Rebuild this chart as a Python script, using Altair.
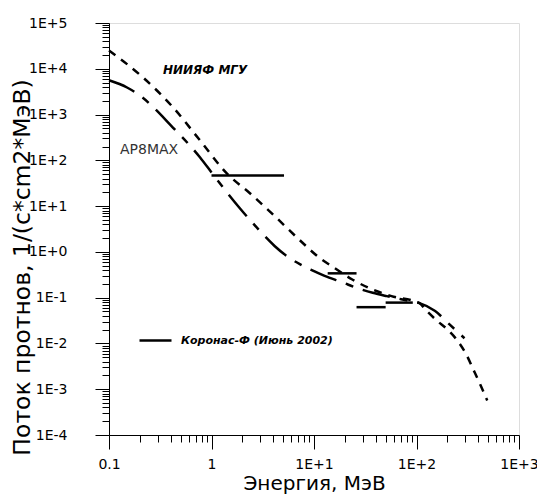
import altair as alt
import pandas as pd

# НИИЯФ МГУ model (short dashes)
niiyaf_e = [0.1, 0.214, 0.42, 0.77, 1.41, 2.37, 4.15, 7.27, 11.4, 16.0, 23.4, 35, 57, 107,
            123, 157, 206, 257, 309, 361, 423, 490]
niiyaf_f = [2.5e4, 6.5e3, 1.45e3, 275, 52, 19.1, 6.0, 1.8, 0.73, 0.44, 0.253, 0.16, 0.108, 0.076,
            0.054, 0.032, 0.019, 0.0107, 0.0055, 0.0026, 0.0012, 5.7e-4]

# AP8MAX model (long dashes)
ap8_e = [0.1, 0.15, 0.2, 0.42, 0.771, 1.03, 1.41, 1.89, 2.48, 3.17, 4.15, 5.43, 7.27, 9.52,
         12.7, 18.7, 26.7, 37.4, 51.2, 91.9, 107, 152, 210, 294]
ap8_f = [5.6e3, 3.9e3, 2.6e3, 520, 117, 49.8, 20.1, 9.0, 4.46, 2.44, 1.33, 0.81, 0.54, 0.40,
         0.30, 0.218, 0.161, 0.128, 0.108, 0.082, 0.076, 0.051, 0.026, 0.013]

# Коронас-Ф measurements (energy bins)
kor_e1 = [1.0, 13.6, 26, 50]
kor_e2 = [5.1, 26, 50, 92]
kor_f = [46.5, 0.34, 0.062, 0.078]
kor_label = "Коронас-Ф (Июнь 2002)"

# axis tick values
x_ticks = [k * 10.0 ** p for p in range(-1, 3) for k in range(1, 10)] + [1000.0]
y_ticks = [k * 10.0 ** p for p in range(-4, 5) for k in range(1, 10)] + [1e5]

MAJOR = "abs(log(datum.value)/LN10 - round(log(datum.value)/LN10)) < 0.001"
EXP = "round(log(datum.value)/LN10)"

x_label_expr = (f"({MAJOR}) ? (datum.value < 0.5 ? '0.1' : (datum.value < 5 ? '1' : '1E+' + {EXP})) : ''")
y_label_expr = (f"({MAJOR}) ? ('1E' + ({EXP} >= 0 ? '+' : '-') + abs({EXP})) : ''")

FONT = "DejaVu Sans"


def make_axis(values, expr, title, title_size, **kw):
    return alt.Axis(
        values=values, labelExpr=expr, title=title, grid=False,
        tickSize={"condition": {"test": MAJOR, "value": 14}, "value": 7},
        tickColor="black", tickWidth=1, domainColor="black", domainWidth=1,
        labelFont=FONT, labelFontSize=14, labelColor="black",
        labelOverlap=False, labelFlush=False,
        titleFont=FONT, titleFontSize=title_size, titleFontWeight="normal", titleColor="black",
        titleAlign="center", titleBaseline="middle",
        **kw,
    )


x_scale = alt.Scale(type="log", domain=[0.1, 1000], nice=False)
y_scale = alt.Scale(type="log", domain=[1e-4, 1e5], nice=False)

x_axis = make_axis(x_ticks, x_label_expr, "Энергия, МэВ", 20, labelPadding=8,
                   titleX=205, titleY=48)
y_axis = make_axis(y_ticks, y_label_expr, "Поток протнов, 1/(c*cm2*MэВ)", 23.5, labelPadding=28,
                   titleX=-87, titleY=244, titleAngle=270)

niiyaf = pd.DataFrame({"E": niiyaf_e, "F": niiyaf_f})
ap8 = pd.DataFrame({"E": ap8_e, "F": ap8_f})
kor = pd.DataFrame({"E1": kor_e1, "E2": kor_e2, "F": kor_f, "src": kor_label})

base_x = alt.X("E:Q", scale=x_scale, axis=x_axis)
base_y = alt.Y("F:Q", scale=y_scale, axis=y_axis)

line_niiyaf = alt.Chart(niiyaf).mark_line(
    color="black", strokeWidth=2.5, strokeDash=[8, 7], interpolate="monotone"
).encode(x=base_x, y=base_y)

line_ap8 = alt.Chart(ap8).mark_line(
    color="black", strokeWidth=2.5, strokeDash=[28, 10, 8, 10], interpolate="monotone"
).encode(x=alt.X("E:Q", scale=x_scale), y=alt.Y("F:Q", scale=y_scale))

segments = alt.Chart(kor).mark_rule(strokeWidth=2.5).encode(
    x=alt.X("E1:Q", scale=x_scale),
    x2="E2:Q",
    y=alt.Y("F:Q", scale=y_scale),
    color=alt.Color(
        "src:N",
        scale=alt.Scale(domain=[kor_label], range=["black"]),
        legend=alt.Legend(
            title=None, orient="none", legendX=29, legendY=300,
            symbolType="stroke", symbolSize=1024, symbolStrokeWidth=2.5,
            symbolStrokeColor="black", padding=0,
            labelFont=FONT, labelFontSize=11, labelFontStyle="italic",
            labelFontWeight="bold", labelColor="black", labelOffset=8,
        ),
    ),
)

lab_niiyaf = pd.DataFrame({"E": [0.336], "F": [9.3e3], "t": ["НИИЯФ МГУ"]})
lab_ap8 = pd.DataFrame({"E": [0.128], "F": [166], "t": ["AP8MAX"]})

text_niiyaf = alt.Chart(lab_niiyaf).mark_text(
    align="left", baseline="middle", font=FONT, fontSize=12, fontStyle="italic",
    fontWeight="bold", color="black"
).encode(x=alt.X("E:Q", scale=x_scale), y=alt.Y("F:Q", scale=y_scale), text="t:N")

text_ap8 = alt.Chart(lab_ap8).mark_text(
    align="left", baseline="middle", font=FONT, fontSize=14, color="#333333"
).encode(x=alt.X("E:Q", scale=x_scale), y=alt.Y("F:Q", scale=y_scale), text="t:N")

chart = alt.layer(line_niiyaf, line_ap8, segments, text_niiyaf, text_ap8).properties(
    width=410, height=412,
    autosize=alt.AutoSizeParams(type="none"),
    padding={"left": 109, "top": 23, "right": 18, "bottom": 61},
).configure_view(stroke=None).configure(background="white")

chart.save("out.html", embed_options={"renderer": "svg", "actions": False})
